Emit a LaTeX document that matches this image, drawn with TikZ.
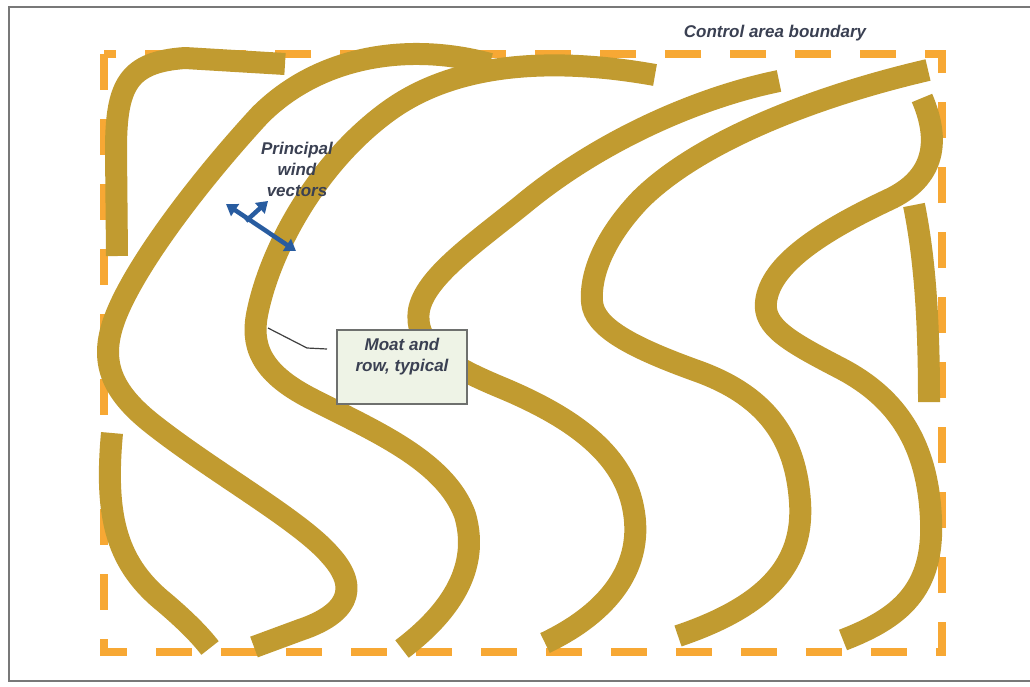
\documentclass[tikz,border=0pt]{standalone}
\usepackage{fontspec}
\setmainfont{Liberation Sans}
\usetikzlibrary{arrows.meta}
\definecolor{moat}{RGB}{193,155,48}
\definecolor{bound}{RGB}{247,168,52}
\definecolor{framegray}{RGB}{120,120,120}
\definecolor{txt}{RGB}{58,64,82}
\definecolor{windblue}{RGB}{40,92,160}
\definecolor{boxfill}{RGB}{238,243,230}
\definecolor{boxline}{RGB}{110,112,110}
\begin{document}
\begin{tikzpicture}[x=1pt,y=-1pt,
  moatrow/.style={draw=moat,line width=22pt,line cap=butt,line join=round},
  lbl/.style={font=\fontsize{17}{21}\selectfont\bfseries\itshape,text=txt,align=center,inner sep=0pt},
  windarrow/.style={draw=windblue,line width=4.5pt}]
\useasboundingbox (0,0) rectangle (1030,686);
\fill[white] (0,0) rectangle (1030,686);
\begin{scope}
  \clip (0,0) rectangle (1030,686);
  \draw[framegray,line width=2.5pt] (9,7) rectangle (1070,681);
\end{scope}
% control area boundary
\draw[bound,line width=8pt,dash pattern=on 36pt off 29pt] (104,54) rectangle (942,652);
% moat and row strips
% A: top-left corner piece
\draw[moatrow] (117,256) -- (116,150) .. controls (116,85) and (128,62) .. (185,58) -- (285,64);
% H: bottom-left piece
\draw[moatrow] (112,433) .. controls (104,520) and (118,565) .. (165,603) .. controls (185,620) and (200,635) .. (210,648);
% B
\draw[moatrow] (490,64) .. controls (410,42) and (320,55) .. (260,115) .. controls (200,180) and (135,265) .. (115,318) .. controls (100,358) and (108,388) .. (150,422) .. controls (210,470) and (300,520) .. (330,555) .. controls (362,590) and (345,615) .. (300,630) -- (254,647);
% C
\draw[moatrow] (655,75) .. controls (560,58) and (460,60) .. (390,110) .. controls (320,160) and (272,245) .. (258,310) .. controls (250,345) and (260,372) .. (310,398) .. controls (372,430) and (445,460) .. (465,515) .. controls (478,560) and (460,605) .. (402,649);
% D
\draw[moatrow] (779,81) .. controls (700,97) and (600,140) .. (522,205) .. controls (472,245) and (425,278) .. (419,310) .. controls (414,342) and (440,362) .. (500,387) .. controls (570,416) and (622,452) .. (633,507) .. controls (645,565) and (610,612) .. (545,643);
% E
\draw[moatrow] (928,70) .. controls (820,95) and (700,140) .. (640,200) .. controls (602,240) and (590,277) .. (592,302) .. controls (594,327) and (630,347) .. (700,372) .. controls (770,398) and (796,442) .. (800,502) .. controls (804,562) and (770,605) .. (678,636);
% F
\draw[moatrow] (922,98) .. controls (940,140) and (936,178) .. (888,200) .. controls (820,232) and (770,265) .. (766,302) .. controls (763,327) and (790,342) .. (840,368) .. controls (898,398) and (928,445) .. (931,520) .. controls (934,590) and (900,618) .. (843,640);
% G: right vertical piece
\draw[moatrow] (914,205) .. controls (925,260) and (929,320) .. (929,402);
% labels
\node[lbl] (ctrl) at (775,33) {Control area boundary};
\node[lbl] (wind) at (297,169) {Principal\\wind\\vectors};
% wind vectors
\coordinate (w1) at (226,204);
\coordinate (w2) at (296,251);
\coordinate (w3) at (246,221);
\coordinate (w4) at (268,201);
\draw[windarrow,{Triangle[length=11pt,width=14pt]}-{Triangle[length=11pt,width=14pt]}] (w1) -- (w2);
\draw[windarrow,-{Triangle[length=11pt,width=14pt]}] (w3) -- (w4);
% typical label
\node[draw=boxline,line width=1.5pt,fill=boxfill,minimum width=130pt,minimum height=74pt,inner sep=0pt] (box) at (402,367) {};
\node[lbl] (moattxt) at (402,357) {Moat and\\row, typical};
\coordinate (lead) at (268,328);
\coordinate (bend) at (307,348);
\coordinate (leadend) at (327,349);
\draw[black!75,line width=1.2pt] (lead) -- (bend) -- (leadend);
\end{tikzpicture}
\end{document}
